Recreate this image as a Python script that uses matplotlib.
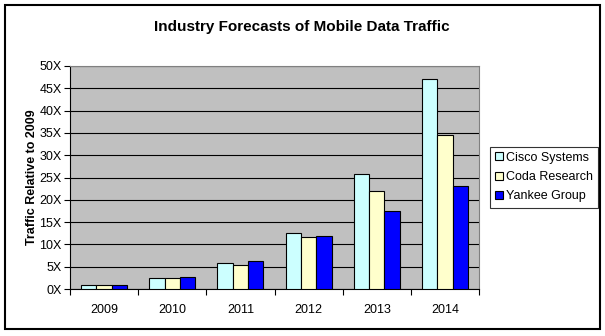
import matplotlib.pyplot as plt
import numpy as np
from matplotlib.patches import Rectangle

plt.rcParams["font.family"] = ["Liberation Sans", "DejaVu Sans"]

# Datos
years = ["2009", "2010", "2011", "2012", "2013", "2014"]
cisco = [1.0, 2.4, 5.8, 12.5, 25.7, 47.0]
coda = [1.0, 2.4, 5.3, 11.6, 21.9, 34.5]
yankee = [1.0, 2.6, 6.3, 11.8, 17.6, 23.0]
series = ["Cisco Systems", "Coda Research", "Yankee Group"]
colores = ["#CCFFFF", "#FFFFCC", "#0000FF"]

fig = plt.figure(figsize=(6.05, 3.36), dpi=100)
ax = fig.add_axes([70 / 605, 1 - 289 / 336, 409 / 605, 223 / 336])

# marco exterior
fig.patches.append(Rectangle((5 / 605, 1 - 329 / 336), 595 / 605, 324 / 336,
                             transform=fig.transFigure, fill=False,
                             edgecolor="black", linewidth=1.5))

x = np.arange(len(years))
w = 0.225
for i, (vals, nombre) in enumerate(zip([cisco, coda, yankee], series)):
    ax.bar(x + (i - 1) * w, vals, width=w, color=colores[i], edgecolor="black",
           linewidth=0.8, label=nombre, zorder=3)

ax.set_facecolor("#C0C0C0")
ax.set_xlim(-0.5, len(years) - 0.5)
ax.set_ylim(0, 50)
ax.set_yticks(range(0, 51, 5))
ax.set_yticklabels([f"{v}X" for v in range(0, 51, 5)], fontsize=9)
ax.yaxis.grid(True, color="black", linewidth=0.8, zorder=1)
ax.set_axisbelow(True)

# ticks de categorias entre grupos
ax.set_xticks(np.arange(-0.5, len(years)), minor=False)
ax.set_xticklabels([])
ax.set_xticks(x, minor=True)
ax.set_xticklabels(years, minor=True, fontsize=9)
ax.tick_params(axis="x", which="minor", length=0, pad=11)
ax.tick_params(axis="x", which="major", length=4, direction="out", width=0.8)
ax.tick_params(axis="y", length=4, direction="out", width=0.8, pad=2)

for lado in ["top", "right"]:
    ax.spines[lado].set_color("#808080")
for lado in ["left", "bottom"]:
    ax.spines[lado].set_color("black")

ax.set_ylabel("Traffic Relative to 2009", fontsize=9, fontweight="bold", labelpad=1)
fig.text(302 / 605, 1 - 27 / 336, "Industry Forecasts of Mobile Data Traffic",
         ha="center", va="center", fontsize=11, fontweight="bold")

leg = ax.legend(loc="center left", bbox_to_anchor=(490 / 605, 1 - 177 / 336),
                bbox_transform=fig.transFigure, fontsize=9, frameon=True,
                fancybox=False, edgecolor="black", handlelength=0.6,
                handleheight=0.6, handletextpad=0.3, borderpad=0.4,
                labelspacing=0.6, borderaxespad=0)
leg.get_frame().set_linewidth(0.8)

plt.savefig("out.png", dpi=100)
